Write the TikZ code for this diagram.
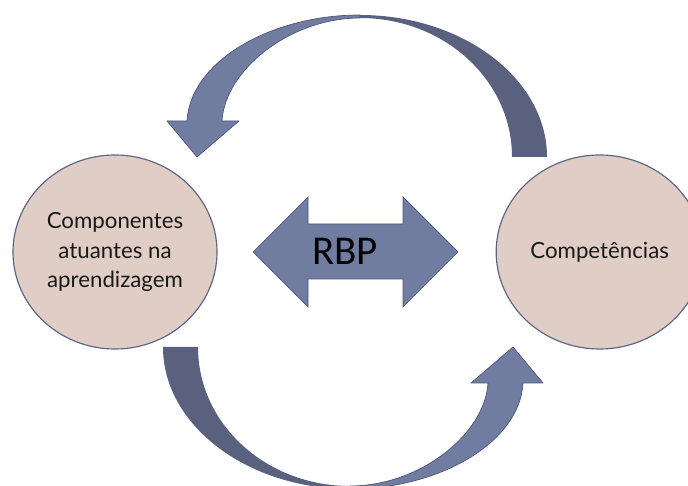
\documentclass[tikz,border=0pt]{standalone}
\usepackage{fontspec}
\setmainfont{Lato}
\newfontfamily\rbpfont{Carlito}
\usetikzlibrary{positioning,shapes.geometric}
\definecolor{nodefill}{HTML}{E0CDC6}
\definecolor{nodeline}{HTML}{5B6687}
\definecolor{arrowfront}{HTML}{717CA1}
\definecolor{arrowback}{HTML}{59617F}
\definecolor{arrowline}{HTML}{4F5778}
% one bent arrow of the cycle: back part, then front part with its head
\newcommand{\cyclearrow}{%
  \fill[arrowback] (360,15) .. controls (463,15) and (547,79) .. (547,157)
    -- (512,157) .. controls (512,80) and (444,18) .. (360,18) -- cycle;
  \draw[arrowline, fill=arrowfront, line width=0.6pt, line join=round]
    (360,15) .. controls (270,15) and (190,62) .. (187,121)
    -- (167,121) -- (197,157) -- (239,121) -- (222,121)
    .. controls (225,70) and (290,18) .. (360,18) -- cycle;}

\begin{document}
\begin{tikzpicture}[x=0.03cm, y=-0.03cm, font=\fontsize{19}{25.5}\selectfont]
  \useasboundingbox (0,0) rectangle (688,486);
  \cyclearrow
  \begin{scope}[rotate around={180:(355,252)}]
    \cyclearrow
  \end{scope}
  \node[ellipse, draw=nodeline, fill=nodefill, line width=1pt, text=black!90,
    minimum width=6.12cm, minimum height=5.82cm, align=center]
    (comp) at (115,252) {Componentes\\atuantes na\\aprendizagem};
  \node[ellipse, draw=nodeline, fill=nodefill, line width=1pt, text=black!90,
    minimum width=6.12cm, minimum height=5.82cm, align=center, right=8.34cm of comp]
    (compet) {Competências};
  \draw[arrowline, fill=arrowfront, line width=0.6pt]
    (253,252) -- (308,197) -- (308,224) -- (403,224) -- (403,197) -- (458,252)
    -- (403,307) -- (403,279) -- (308,279) -- (308,307) -- cycle;
  \node (rbp) at (345,251) {\rbpfont\fontsize{35}{40}\selectfont RBP};
\end{tikzpicture}
\end{document}
